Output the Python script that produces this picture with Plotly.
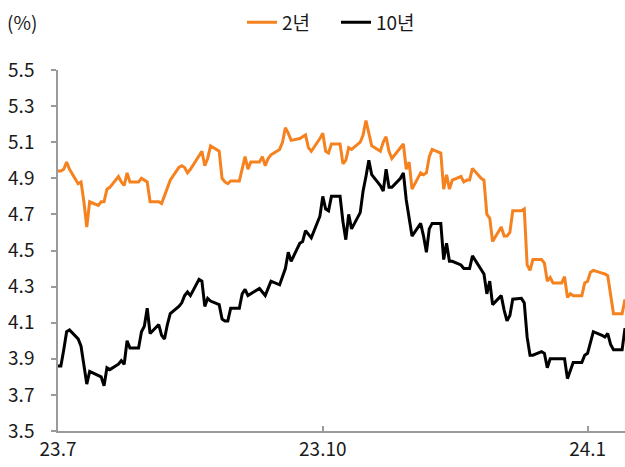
import pandas as pd
import plotly.graph_objects as go

# Business days (weekdays) from 2023-07-03 to 2024-01-16; market holidays carry the prior value
dates = pd.bdate_range("2023-07-03", "2024-01-16")

y2_jul = [4.94, 4.94, 4.95, 4.99, 4.95, 4.87, 4.88, 4.77, 4.63, 4.77, 4.75, 4.77, 4.77, 4.84, 4.85,
          4.91, 4.88, 4.86, 4.93, 4.88, 4.88]
y2_aug = [4.90, 4.89, 4.88, 4.77, 4.77, 4.76, 4.80, 4.84, 4.89, 4.96, 4.97, 4.96, 4.93, 4.95, 5.02,
          5.05, 4.97, 5.01, 5.08, 5.05, 4.90, 4.88, 4.87]
y2_sep = [4.885, 4.885, 4.95, 5.02, 4.95, 4.99, 4.99, 5.02, 4.97, 5.01, 5.03, 5.06, 5.10, 5.18, 5.15,
          5.11, 5.12, 5.13, 5.14, 5.07, 5.05]
y2_oct = [5.12, 5.15, 5.05, 5.04, 5.09, 5.09, 4.98, 5.00, 5.07, 5.06, 5.10, 5.14, 5.22, 5.15, 5.08,
          5.05, 5.10, 5.13, 5.05, 5.01, 5.07, 5.09]
y2_nov = [4.95, 4.99, 4.84, 4.93, 4.92, 4.93, 5.02, 5.06, 5.04, 4.84, 4.92, 4.84, 4.89, 4.91, 4.88,
          4.89, 4.89, 4.955, 4.90, 4.89, 4.70, 4.68]
y2_dec = [4.55, 4.63, 4.58, 4.58, 4.60, 4.72, 4.72, 4.73, 4.42, 4.39, 4.45, 4.45, 4.43, 4.33, 4.35,
          4.32, 4.32, 4.355, 4.24, 4.26, 4.25]
y2_jan = [4.25, 4.32, 4.33, 4.38, 4.39, 4.375, 4.37, 4.36, 4.26, 4.15, 4.15, 4.23]

y10_jul = [3.86, 3.86, 3.95, 4.05, 4.06, 4.01, 3.97, 3.87, 3.76, 3.83, 3.81, 3.80, 3.75, 3.85, 3.84,
           3.87, 3.89, 3.87, 4.00, 3.96, 3.96]
y10_aug = [4.05, 4.08, 4.18, 4.04, 4.09, 4.03, 4.01, 4.09, 4.15, 4.19, 4.21, 4.25, 4.27, 4.25, 4.34,
           4.33, 4.19, 4.235, 4.22, 4.20, 4.12, 4.11, 4.11]
y10_sep = [4.18, 4.18, 4.26, 4.285, 4.25, 4.26, 4.29, 4.27, 4.25, 4.29, 4.33, 4.31, 4.36, 4.40, 4.49,
           4.44, 4.54, 4.55, 4.61, 4.59, 4.57]
y10_oct = [4.69, 4.80, 4.73, 4.72, 4.80, 4.80, 4.66, 4.56, 4.70, 4.62, 4.71, 4.83, 4.91, 5.00, 4.92,
           4.86, 4.83, 4.95, 4.85, 4.85, 4.90, 4.93]
y10_nov = [4.78, 4.68, 4.58, 4.65, 4.58, 4.49, 4.62, 4.65, 4.65, 4.45, 4.54, 4.44, 4.44, 4.42, 4.40,
           4.40, 4.40, 4.47, 4.40, 4.37, 4.26, 4.33]
y10_dec = [4.20, 4.25, 4.17, 4.11, 4.14, 4.23, 4.235, 4.21, 4.02, 3.92, 3.92, 3.94, 3.93, 3.85, 3.90,
           3.90, 3.90, 3.90, 3.79, 3.84, 3.88]
y10_jan = [3.88, 3.92, 3.93, 3.99, 4.05, 4.03, 4.02, 4.04, 3.98, 3.95, 3.95, 4.07]

y2 = y2_jul + y2_aug + y2_sep + y2_oct + y2_nov + y2_dec + y2_jan
y10 = y10_jul + y10_aug + y10_sep + y10_oct + y10_nov + y10_dec + y10_jan

series_names = ["2년", "10년"]
y_ticks = [3.5, 3.7, 3.9, 4.1, 4.3, 4.5, 4.7, 4.9, 5.1, 5.3, 5.5]
x_tickvals = ["2023-07-03", "2023-10-03", "2024-01-03"]
x_ticktext = ["23.7", "23.10", "24.1"]

FONT = "Noto Sans CJK KR, Liberation Sans, sans-serif"
TXT = "#1a1a1a"
AXC = "#9a9a9a"

fig = go.Figure()
fig.add_trace(go.Scatter(x=dates, y=y2, mode="lines", name=series_names[0],
                         line=dict(color="#F5821F", width=3), legend="legend"))
fig.add_trace(go.Scatter(x=dates, y=y10, mode="lines", name=series_names[1],
                         line=dict(color="#000000", width=3), legend="legend2"))

legend_common = dict(orientation="h", xref="container", yref="container",
                     y=0.952, xanchor="left", yanchor="middle",
                     font=dict(family=FONT, size=19, color=TXT),
                     bgcolor="rgba(0,0,0,0)")

fig.update_layout(
    width=625, height=467,
    margin=dict(l=58, r=0, t=70, b=36, autoexpand=False),
    paper_bgcolor="white", plot_bgcolor="white",
    font=dict(family=FONT, size=19, color=TXT),
    showlegend=True,
    legend=dict(x=242 / 625, **legend_common),
    legend2=dict(x=336 / 625, **legend_common),
    annotations=[dict(text="(%)", xref="paper", yref="paper", x=-0.093, y=1.133,
                      xanchor="left", yanchor="middle", showarrow=False,
                      font=dict(family=FONT, size=19, color=TXT))],
)

fig.update_xaxes(type="date", range=["2023-07-03", "2024-01-16"],
                 tickvals=x_tickvals, ticktext=x_ticktext,
                 ticks="inside", ticklen=5, tickcolor=AXC, tickwidth=1.5,
                 showline=True, linecolor=AXC, linewidth=1.5,
                 showgrid=False, zeroline=False, automargin=False,
                 tickfont=dict(family=FONT, size=19, color=TXT))
fig.update_yaxes(range=[3.5, 5.5], tickvals=y_ticks, tickformat=".1f",
                 ticks="outside", ticklen=5, tickcolor=AXC, tickwidth=1.5,
                 showline=True, linecolor=AXC, linewidth=1.5,
                 showgrid=False, zeroline=False, ticklabelstandoff=13, automargin=False,
                 tickfont=dict(family=FONT, size=19, color=TXT))

fig.write_html(
    "out.html",
    config={"displayModeBar": False},
    post_script="document.body.style.margin='0';document.body.style.overflow='hidden';",
)
